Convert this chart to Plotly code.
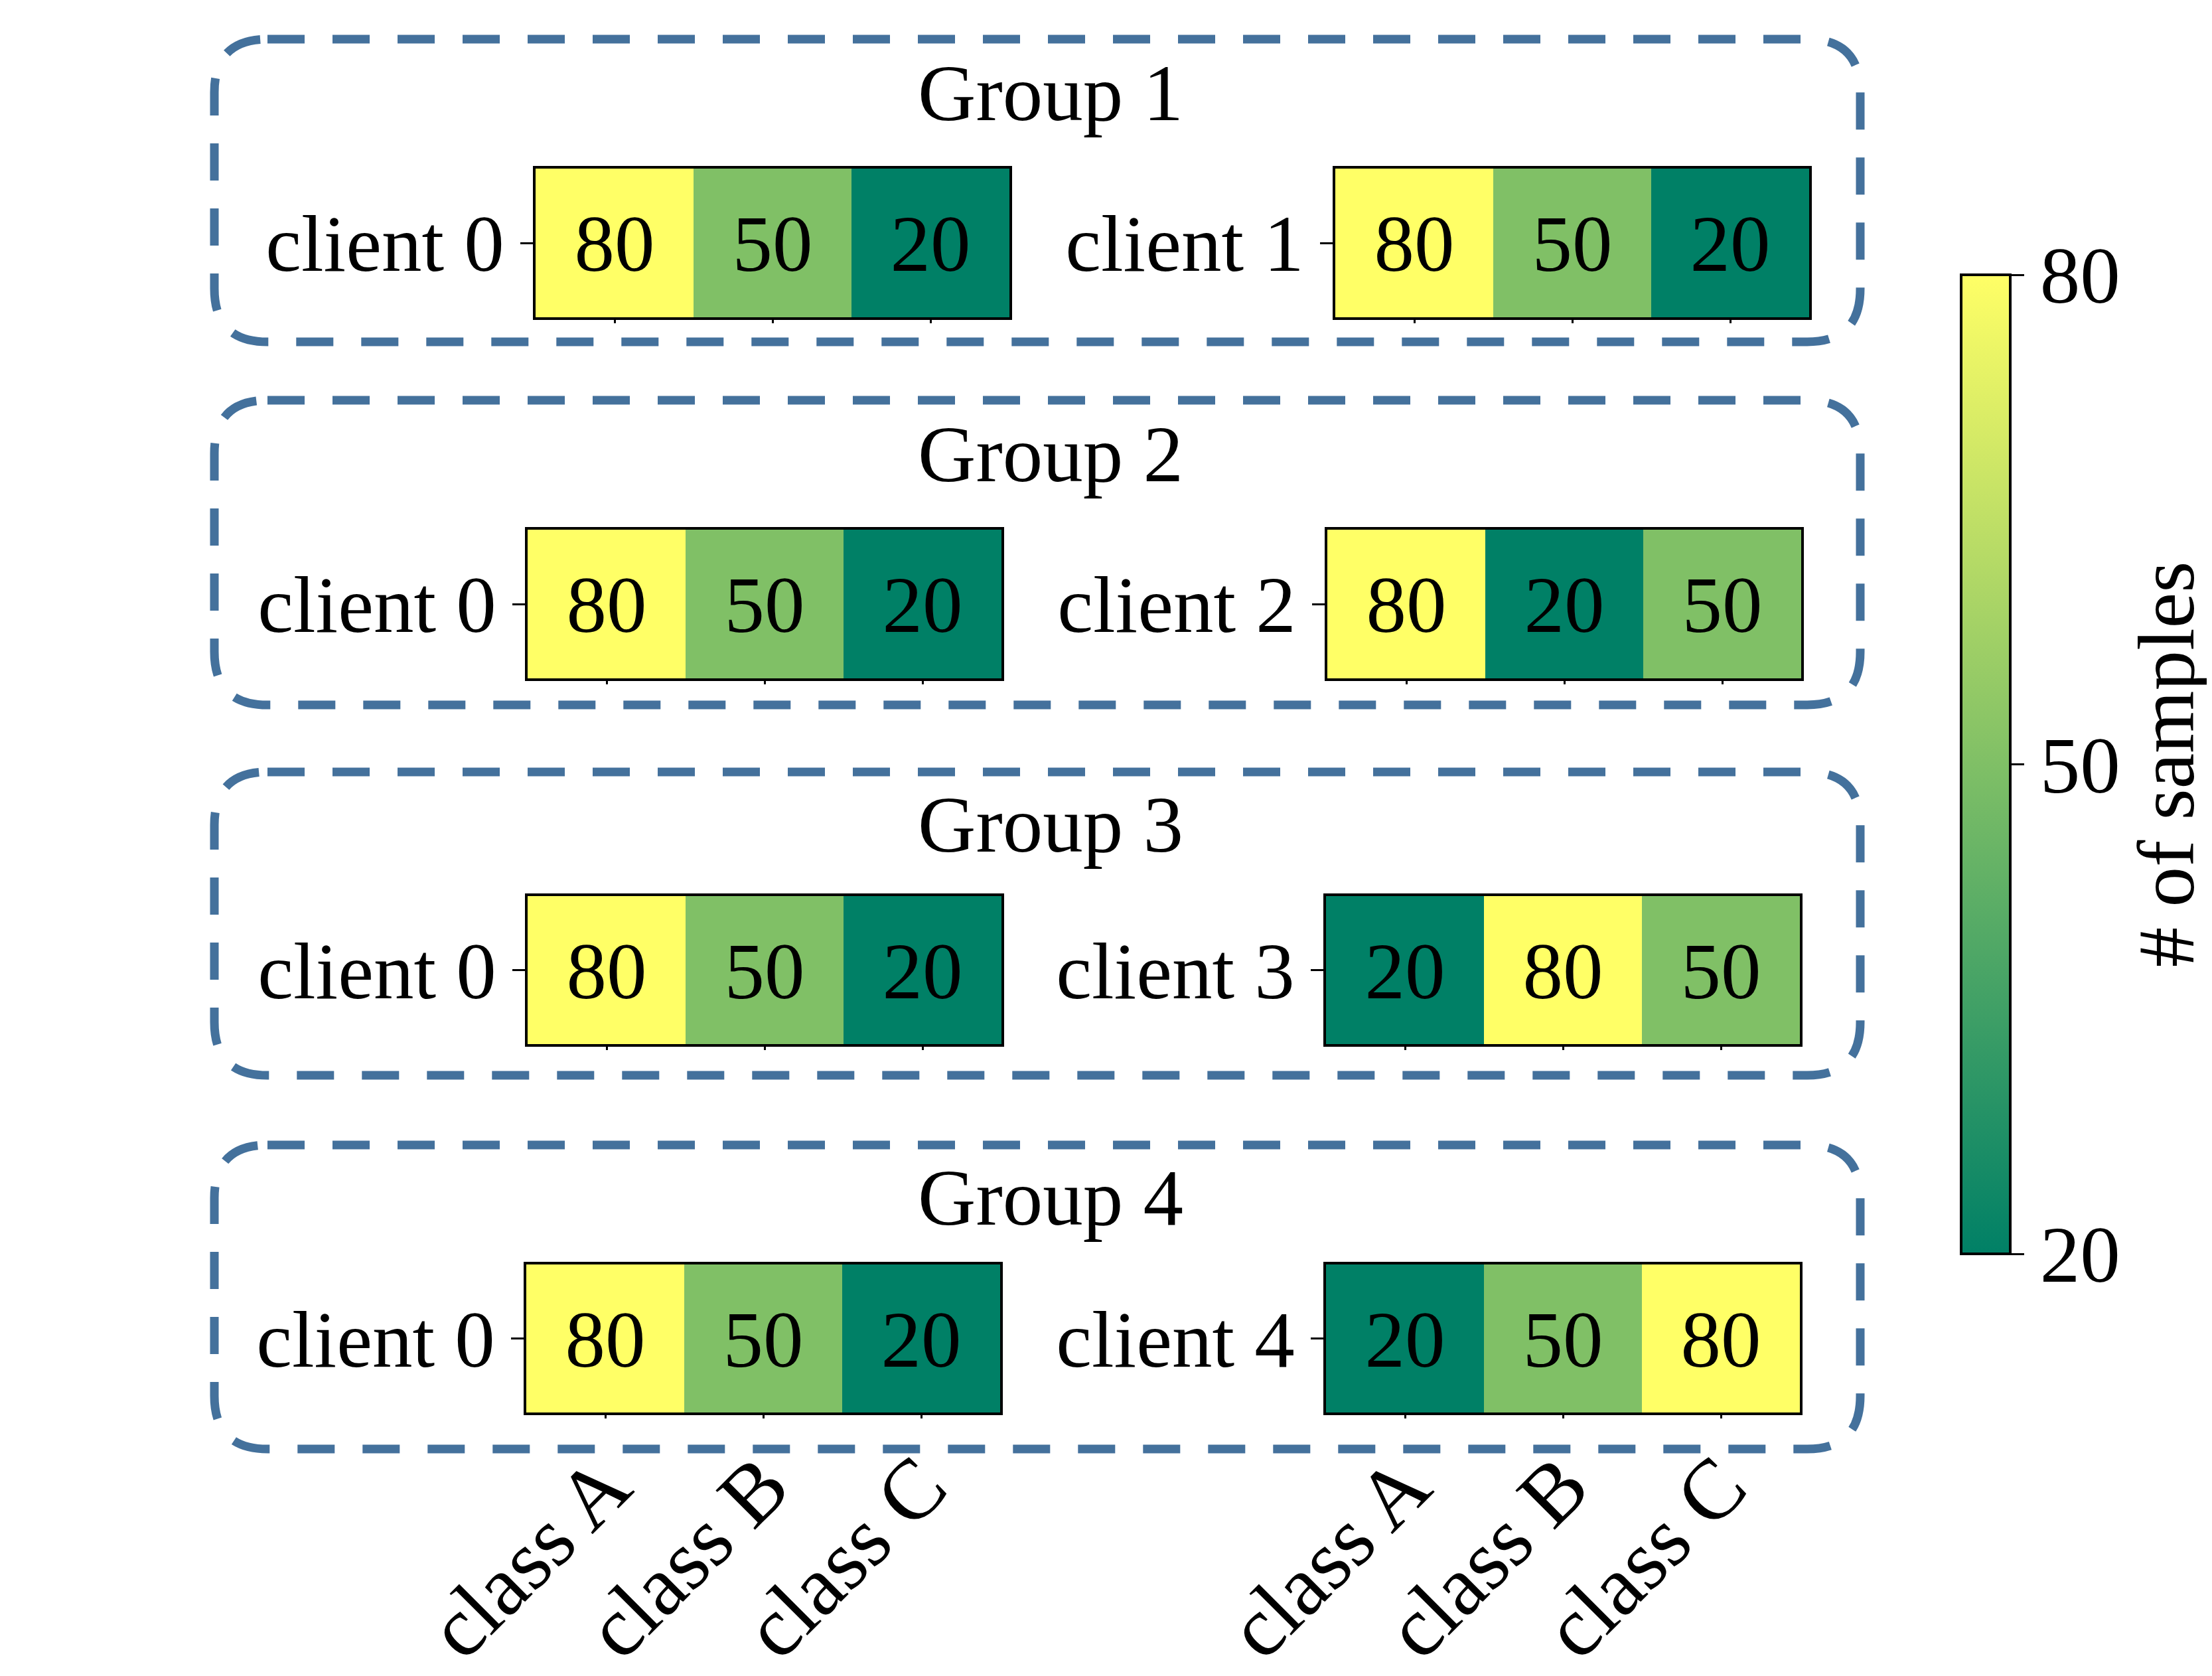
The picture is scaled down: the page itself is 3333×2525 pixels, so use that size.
import plotly.graph_objects as go

# ---------------- data ----------------
groups = ["Group 1", "Group 2", "Group 3", "Group 4"]
classes = ["class A", "class B", "class C"]
left_clients = ["client 0", "client 0", "client 0", "client 0"]
right_clients = ["client 1", "client 2", "client 3", "client 4"]
left_values = [[80, 50, 20], [80, 50, 20], [80, 50, 20], [80, 50, 20]]
right_values = [[80, 50, 20], [80, 20, 50], [20, 80, 50], [20, 50, 80]]
cbar_ticks = [20, 50, 80]

# ---------------- layout geometry (pixels) ----------------
W, H = 3333, 2525
FONT = "Liberation Serif, Times New Roman, serif"
FS = 121
FS_CLASS = 128
BOX_COLOR = "#44719c"

# heatmap panels: (y_top, y_bottom, left_x0, right_x0)
panel_rows = [
    (246, 470, 799, 2004),
    (790, 1014, 787, 1992),
    (1342, 1565, 787, 1990),
    (1897, 2120, 785, 1990),
]
PANEL_W = 714
boxes = [(51, 507), (595, 1054), (1155, 1612), (1717, 2175)]
BOX_X0, BOX_X1 = 315, 2795
title_centers = [132, 676, 1234, 1796]
TITLE_X = 1575


def fx(px):
    return px / W


def fy(py):
    return 1 - py / H


fig = go.Figure()
layout = {}
n = 0
for r in range(4):
    yt, yb, lx, rx = panel_rows[r]
    for side, x0 in (("L", lx), ("R", rx)):
        n += 1
        vals = left_values[r] if side == "L" else right_values[r]
        client = left_clients[r] if side == "L" else right_clients[r]
        xa = "x" if n == 1 else f"x{n}"
        ya = "y" if n == 1 else f"y{n}"
        fig.add_trace(go.Heatmap(
            z=[vals], x=classes, y=[client],
            coloraxis="coloraxis",
            texttemplate="%{z}",
            textfont=dict(size=FS, color="black", family=FONT),
            xaxis=xa, yaxis=ya, hoverinfo="skip",
        ))
        bottom = r == 3
        layout["xaxis" if n == 1 else f"xaxis{n}"] = dict(
            domain=[fx(x0), fx(x0 + PANEL_W)],
            anchor=ya, type="category", automargin=False,
            showline=True, mirror=True, linecolor="black", linewidth=4,
            ticks="outside", ticklen=5, tickwidth=3, tickcolor="black",
            showticklabels=bottom, tickangle=-45,
            tickfont=dict(size=FS_CLASS, family=FONT, color="black"),
            ticklabelstandoff=-25,
            showgrid=False, zeroline=False, fixedrange=True,
        )
        layout["yaxis" if n == 1 else f"yaxis{n}"] = dict(
            domain=[fy(yb), fy(yt)],
            anchor=xa, type="category", automargin=False,
            showline=True, mirror=True, linecolor="black", linewidth=4,
            ticks="outside", ticklen=19, tickwidth=3, tickcolor="black",
            tickfont=dict(size=FS, family=FONT, color="black"),
            ticklabelstandoff=0,
            showgrid=False, zeroline=False, fixedrange=True,
        )

# rounded dashed group boxes
R = 80
shapes = []
for (y0, y1) in boxes:
    x0, x1 = BOX_X0, BOX_X1
    pts = [
        f"M {fx(x0 + R)},{fy(y0)}",
        f"L {fx(x1 - R)},{fy(y0)}",
        f"Q {fx(x1)},{fy(y0)} {fx(x1)},{fy(y0 + R)}",
        f"L {fx(x1)},{fy(y1 - R)}",
        f"Q {fx(x1)},{fy(y1)} {fx(x1 - R)},{fy(y1)}",
        f"L {fx(x0 + R)},{fy(y1)}",
        f"Q {fx(x0)},{fy(y1)} {fx(x0)},{fy(y1 - R)}",
        f"L {fx(x0)},{fy(y0 + R)}",
        f"Q {fx(x0)},{fy(y0)} {fx(x0 + R)},{fy(y0)}",
        "Z",
    ]
    shapes.append(dict(
        type="path", xref="paper", yref="paper", path=" ".join(pts),
        line=dict(color=BOX_COLOR, width=13, dash="56px,42px"),
        fillcolor="rgba(0,0,0,0)", layer="below",
    ))

annotations = []
for g, yc in zip(groups, title_centers):
    annotations.append(dict(
        text=g, x=fx(TITLE_X), y=fy(yc), xref="paper", yref="paper",
        xanchor="center", yanchor="middle", showarrow=False,
        font=dict(size=FS, family=FONT, color="black"),
    ))

cb_top, cb_bot = 406, 1881
layout.update(dict(
    template="none",
    width=W, height=H,
    margin=dict(l=0, r=0, t=0, b=0, pad=0, autoexpand=False),
    paper_bgcolor="white", plot_bgcolor="white",
    font=dict(family=FONT, size=FS, color="black"),
    shapes=shapes, annotations=annotations,
    coloraxis=dict(
        cmin=20, cmax=80,
        colorscale=[[0, "rgb(0,128,102)"], [1, "rgb(255,255,102)"]],
        colorbar=dict(
            x=fx(2947), xanchor="left", xpad=0, ypad=0,
            y=fy((cb_top + cb_bot) / 2), yanchor="middle",
            thickness=74, thicknessmode="pixels",
            len=cb_bot - cb_top, lenmode="pixels",
            outlinewidth=4, outlinecolor="black",
            tickvals=cbar_ticks, ticks="outside", ticklen=19, tickwidth=3,
            tickcolor="black",
            tickfont=dict(size=FS, family=FONT, color="black"),
            title=dict(text="# of samples", side="right",
                       font=dict(size=FS, family=FONT, color="black")),
        ),
    ),
    showlegend=False,
))
fig.update_layout(layout)
fig.write_html("out.html")
